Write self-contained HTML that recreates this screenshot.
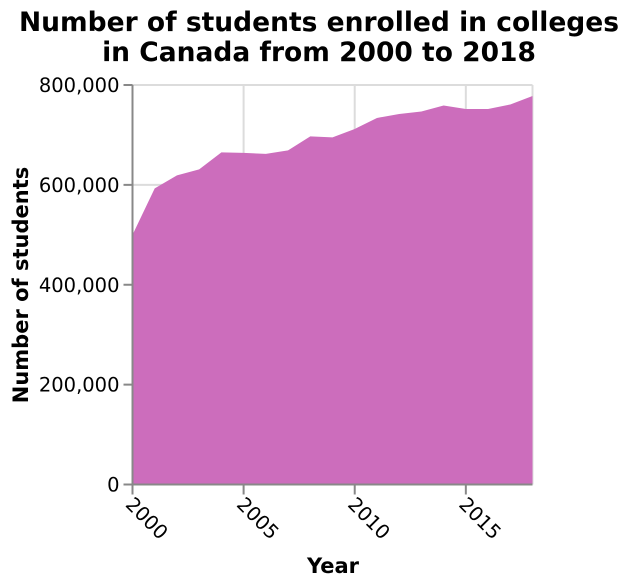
<!DOCTYPE html>
<html><head><meta charset="utf-8"><style>
html,body{margin:0;padding:0;background:#fff;}
svg{display:block;font-family:"DejaVu Sans","Liberation Sans",sans-serif;}
</style></head><body>
<svg id="chart" width="636" height="588" viewBox="0 0 636 588">
<text x="319" y="31" text-anchor="middle" font-size="26.5" font-weight="bold">Number of students enrolled in colleges</text>
<text x="319" y="61" text-anchor="middle" font-size="26.5" font-weight="bold">in Canada from 2000 to 2018</text>
<g id="grid"></g>
<g id="area"></g>
<g id="axes"></g>
<text x="333" y="573" text-anchor="middle" font-size="21" font-weight="bold">Year</text>
<text transform="translate(28,285) rotate(-90)" text-anchor="middle" font-size="21" font-weight="bold">Number of students</text>
</svg>
<script>
const years = [2000,2001,2002,2003,2004,2005,2006,2007,2008,2009,2010,2011,2012,2013,2014,2015,2016,2017,2018];
const students = [500000,593000,619000,631000,665000,664000,662000,669000,697000,695000,712000,734000,742000,747000,759000,752000,752000,761000,778000];
const yTicks = [0,200000,400000,600000,800000];
const yTickLabels = ["0","200,000","400,000","600,000","800,000"];
const xTicks = [2000,2005,2010,2015];
const xTickLabels = ["2000","2005","2010","2015"];

const NS="http://www.w3.org/2000/svg";
const X0=132.5,X1=532.5,Y0=484.5,Y1=85;
function xs(v){return X0+(v-2000)/(2018-2000)*(X1-X0);}
function ys(v){return Y0-v/800000*(Y0-Y1);}
function mk(tag,attrs,parent){const e=document.createElementNS(NS,tag);for(const k in attrs)e.setAttribute(k,attrs[k]);parent.appendChild(e);return e;}
const grid=document.getElementById('grid'),area=document.getElementById('area'),axes=document.getElementById('axes');
yTicks.forEach((t,i)=>{
  if(t>0){const g=mk('line',{x1:X0,x2:X1,y1:ys(t),y2:ys(t),stroke:'#dcdcdc','stroke-width':2},grid);
  
  }
  const tk=mk('line',{x1:X0-9,x2:X0,y1:ys(t),y2:ys(t),stroke:'#888','stroke-width':2},axes);
  
  
  const lb=mk('text',{x:X0-13,y:ys(t)+7,'text-anchor':'end','font-size':19.5},axes);
  lb.textContent=yTickLabels[i];
  
  
});
xTicks.forEach((t,i)=>{
  if(t>2000){const g=mk('line',{x1:xs(t),x2:xs(t),y1:Y1,y2:Y0,stroke:'#dcdcdc','stroke-width':2},grid);
  
  }
  const tk=mk('line',{x1:xs(t),x2:xs(t),y1:Y0,y2:Y0+10,stroke:'#888','stroke-width':2},axes);
  
  
  const lb=mk('text',{x:0,y:0,'font-size':19.5,transform:`translate(${xs(t)-8},${Y0+21}) rotate(45)`},axes);
  lb.textContent=xTickLabels[i];
  
  
});
const rg=mk('line',{x1:X1,x2:X1,y1:Y1,y2:Y0,stroke:'#dcdcdc','stroke-width':2},grid);


const tg=mk('line',{x1:X0,x2:X1,y1:Y1,y2:Y1,stroke:'#dcdcdc','stroke-width':2},grid);


let d=`M${xs(years[0])},${Y0}`;
years.forEach((y,i)=>{d+=` L${xs(y)},${ys(students[i])}`;});
d+=` L${xs(years[years.length-1])},${Y0} Z`;
const p=mk('path',{d:d,fill:'#cc6dbc'},area);


const ya=mk('line',{x1:X0,x2:X0,y1:Y1,y2:Y0,stroke:'#888','stroke-width':2},axes);


const xa=mk('line',{x1:X0,x2:X1,y1:Y0,y2:Y0,stroke:'#888','stroke-width':2},axes);


</script>
</body></html>
